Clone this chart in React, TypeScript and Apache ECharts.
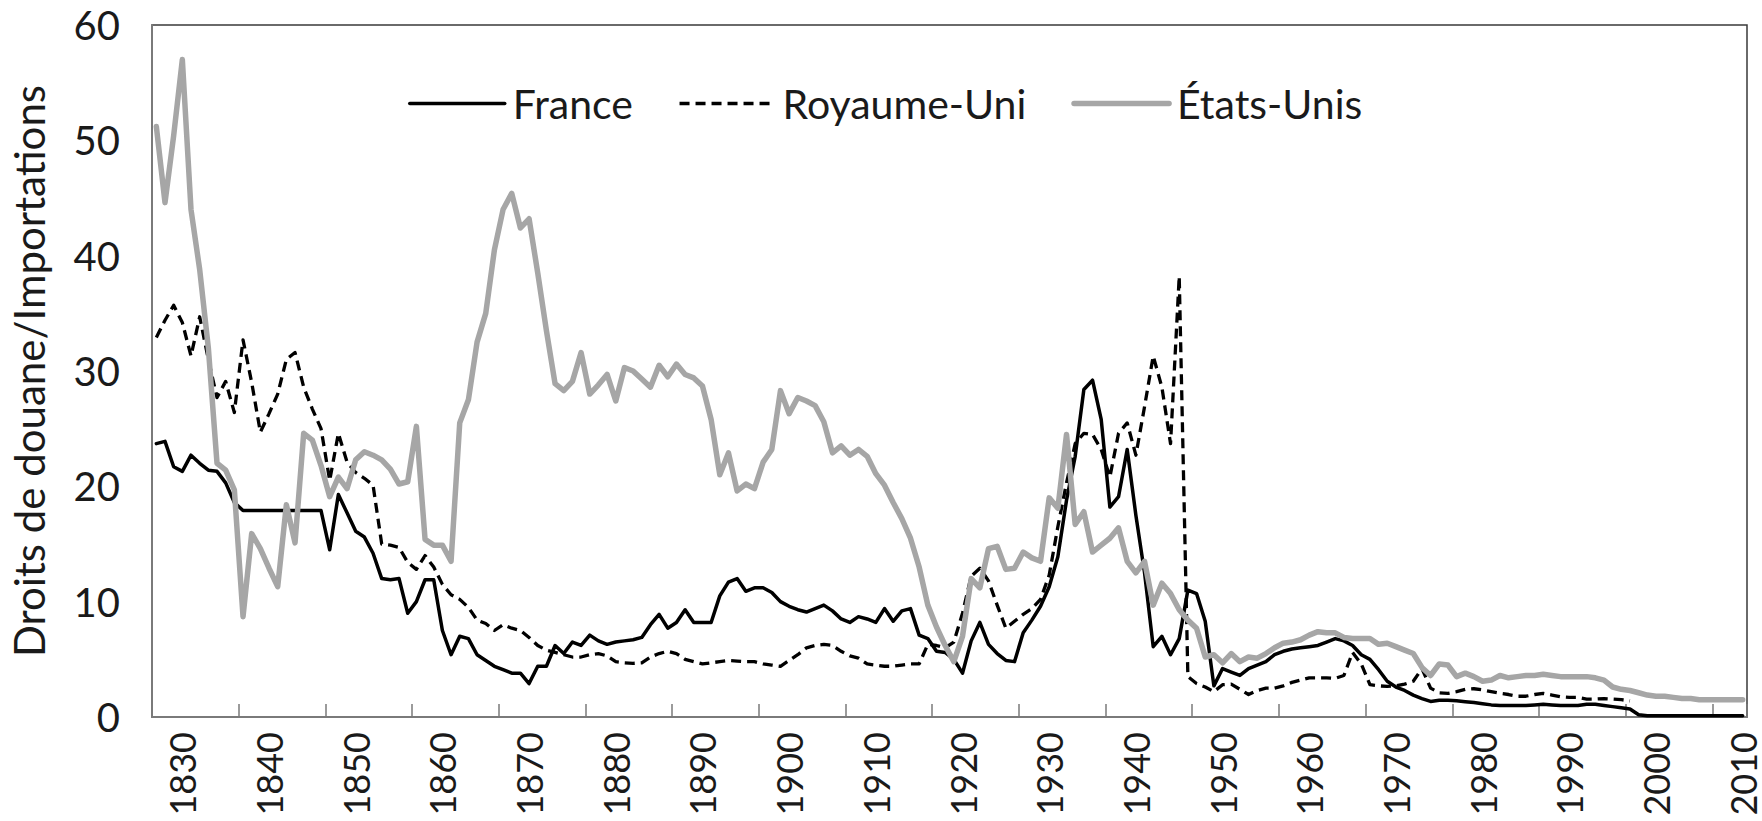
import React, { useEffect, useRef } from "react";
import * as echarts from "echarts";

// Years 1827..2010 (one category per year)
const firstYear = 1827;
const lastYear = 2010;
const years: string[] = [];
for (let y = firstYear; y <= lastYear; y++) years.push(String(y));

const seriesNames = ["France", "Royaume-Uni", "États-Unis"];

// Droits de douane / Importations (%)
const france: (number | null)[] = [
  23.7, 23.9, 21.7, 21.3, 22.7, 22.0, 21.4, 21.3, 20.3, 18.6,
  17.9, 17.9, 17.9, 17.9, 17.9, 17.9, 17.9, 17.9, 17.9, 17.9,
  14.5, 19.3, 17.7, 16.1, 15.6, 14.2, 12.0, 11.9, 12.0, 9.0,
  10.0, 11.9, 11.9, 7.5, 5.4, 7.0, 6.8, 5.4, 4.9, 4.4,
  4.1, 3.8, 3.8, 2.9, 4.4, 4.4, 6.2, 5.5, 6.5, 6.2,
  7.1, 6.6, 6.3, 6.5, 6.6, 6.7, 6.9, 8.0, 8.9, 7.7,
  8.2, 9.3, 8.2, 8.2, 8.2, 10.5, 11.7, 12.0, 10.9, 11.2,
  11.2, 10.8, 10.0, 9.6, 9.3, 9.1, 9.4, 9.7, 9.2, 8.5,
  8.2, 8.7, 8.5, 8.2, 9.4, 8.3, 9.2, 9.4, 7.1, 6.8,
  5.7, 5.6, 5.0, 3.8, 6.6, 8.2, 6.3, 5.5, 4.9, 4.8,
  7.3, 8.4, 9.6, 11.3, 13.9, 18.8, 22.6, 28.4, 29.2, 25.8,
  18.2, 19.1, 23.2, 17.5, 12.5, 6.1, 7.0, 5.4, 6.8, 11.0,
  10.7, 8.3, 2.7, 4.2, 3.9, 3.6, 4.2, 4.5, 4.8, 5.4,
  5.7, 5.9, 6.0, 6.1, 6.2, 6.5, 6.8, 6.6, 6.2, 5.4,
  5.0, 4.1, 3.1, 2.6, 2.3, 1.9, 1.6, 1.35, 1.45, 1.45,
  1.4, 1.33, 1.25, 1.15, 1.05, 1.0, 1.0, 1.0, 1.0, 1.05,
  1.1, 1.05, 1.0, 1.0, 1.0, 1.1, 1.1, 1.0, 0.9, 0.8,
  0.7, 0.2, 0.1, 0.1, 0.1, 0.1, 0.1, 0.1, 0.1, 0.1,
  0.1, 0.1, 0.1, 0.1,
];

const royaumeUni: (number | null)[] = [
  32.9, 34.4, 35.7, 34.2, 31.3, 34.7, 31.0, 27.7, 29.1, 26.4,
  32.7, 29.0, 24.7, 26.3, 28.0, 31.0, 31.6, 28.6, 26.7, 25.0,
  20.5, 24.6, 22.1, 21.2, 20.7, 20.1, 15.0, 14.9, 14.7, 13.4,
  12.8, 14.0, 13.0, 11.5, 10.6, 10.2, 9.5, 8.4, 8.1, 7.5,
  8.0, 7.7, 7.5, 6.9, 6.2, 5.8, 5.6, 5.4, 5.2, 5.2,
  5.4, 5.5, 5.3, 4.8, 4.7, 4.65, 4.7, 5.2, 5.5, 5.7,
  5.5, 5.0, 4.8, 4.6, 4.7, 4.8, 4.9, 4.85, 4.8, 4.8,
  4.6, 4.5, 4.4, 4.9, 5.4, 6.0, 6.2, 6.3, 6.2, 5.7,
  5.3, 5.1, 4.6, 4.5, 4.4, 4.4, 4.5, 4.6, 4.6, 6.3,
  6.2, 6.0, 6.5, 9.0, 12.2, 12.9, 11.8, 9.7, 7.7, 8.3,
  8.9, 9.4, 10.2, 12.3, 16.5, 20.3, 23.7, 24.6, 24.5, 23.2,
  20.8, 24.6, 25.5, 22.7, 26.9, 31.3, 28.6, 23.7, 38.2, 3.5,
  2.9, 2.6, 2.2, 2.8, 2.85, 2.4, 1.95, 2.3, 2.5, 2.5,
  2.7, 3.0, 3.2, 3.4, 3.4, 3.4, 3.35, 3.6, 5.6, 4.6,
  2.8, 2.7, 2.65, 2.7, 2.85, 3.1, 4.2, 2.5, 2.1, 2.05,
  2.2, 2.4, 2.45, 2.35, 2.2, 2.05, 1.95, 1.8, 1.8, 1.95,
  2.05, 1.9, 1.75, 1.7, 1.7, 1.55, 1.55, 1.6, 1.55, 1.5,
  1.4, null, null, null, null, null, null, null, null, null,
  null, null, null, null,
];

const etatsUnis: (number | null)[] = [
  51.2, 44.6, 50.4, 57.0, 44.0, 38.8, 32.0, 22.0, 21.4, 19.7,
  8.7, 15.9, 14.6, 12.9, 11.3, 18.4, 15.1, 24.6, 24.0, 21.8,
  19.1, 20.8, 19.8, 22.3, 23.0, 22.7, 22.3, 21.5, 20.2, 20.4,
  25.2, 15.4, 14.9, 14.9, 13.5, 25.5, 27.5, 32.5, 35.0, 40.5,
  44.0, 45.4, 42.4, 43.2, 38.5, 33.5, 28.9, 28.3, 29.1, 31.6,
  28.0, 28.8, 29.7, 27.4, 30.3, 30.0, 29.3, 28.6, 30.5, 29.5,
  30.6, 29.7, 29.4, 28.7, 25.8, 21.0, 22.9, 19.6, 20.2, 19.8,
  22.1, 23.2, 28.3, 26.3, 27.7, 27.4, 27.0, 25.6, 22.9, 23.5,
  22.7, 23.2, 22.6, 21.1, 20.1, 18.6, 17.2, 15.5, 13.0, 9.7,
  7.8, 6.2, 4.8, 7.0, 12.0, 11.2, 14.6, 14.8, 12.8, 12.9,
  14.3, 13.8, 13.5, 19.0, 18.1, 24.5, 16.7, 17.8, 14.3, 14.9,
  15.5, 16.4, 13.5, 12.5, 13.5, 9.7, 11.6, 10.7, 9.3, 8.4,
  7.7, 5.2, 5.4, 4.7, 5.5, 4.8, 5.2, 5.1, 5.5, 6.0,
  6.4, 6.5, 6.7, 7.1, 7.4, 7.3, 7.3, 6.9, 6.8, 6.8,
  6.8, 6.3, 6.4, 6.1, 5.8, 5.5, 4.3, 3.6, 4.6, 4.5,
  3.5, 3.8, 3.5, 3.1, 3.2, 3.6, 3.4, 3.5, 3.6, 3.6,
  3.7, 3.6, 3.5, 3.5, 3.5, 3.5, 3.4, 3.2, 2.6, 2.4,
  2.3, 2.1, 1.9, 1.8, 1.8, 1.7, 1.6, 1.6, 1.5, 1.5,
  1.5, 1.5, 1.5, 1.5,
];

const yMin = 0;
const yMax = 60;
const yStep = 10;

const FONT = "Lato, 'Open Sans', sans-serif";

export default function App() {
  const ref = useRef<HTMLDivElement>(null);

  useEffect(() => {
    document.body.style.margin = "0";
    const chart = echarts.init(ref.current as HTMLDivElement, null, { renderer: "svg" });
    chart.setOption({
      animation: false,
      backgroundColor: "#ffffff",
      textStyle: { fontFamily: FONT, color: "#1a1a1a" },
      grid: {
        left: 152,
        top: 25,
        right: 15,
        bottom: 104,
        show: true,
        borderColor: "#3a3a3a",
        borderWidth: 1.5,
        backgroundColor: "transparent",
      },
      legend: {
        data: seriesNames,
        left: 403,
        top: 78,
        itemWidth: 95,
        itemHeight: 20,
        itemGap: 45,
        itemStyle: { opacity: 0 },
        lineStyle: { width: "inherit" },
        textStyle: {
          fontFamily: FONT,
          fontSize: 41,
          color: "#1a1a1a",
          padding: [0, 0, 0, 3],
        },
      },
      xAxis: {
        type: "category",
        data: years,
        boundaryGap: true,
        axisLine: { show: true, lineStyle: { color: "#7a7a7a", width: 2 } },
        axisTick: {
          show: true,
          inside: true,
          length: 13,
          interval: (idx: number, val: string) => (Number(val) - firstYear) % 10 === 0 && idx > 0,
          lineStyle: { color: "#7a7a7a", width: 1.5 },
        },
        axisLabel: {
          rotate: 90,
          interval: (_idx: number, val: string) => Number(val) % 10 === 0,
          fontFamily: FONT,
          fontSize: 36,
          lineHeight: 34,
          color: "#1a1a1a",
          margin: 15,
        },
        splitLine: { show: false },
      },
      yAxis: {
        type: "value",
        min: yMin,
        max: yMax,
        interval: yStep,
        name: "Droits de douane/Importations",
        nameLocation: "middle",
        nameRotate: 90,
        nameGap: 102,
        nameTextStyle: { fontFamily: FONT, fontSize: 42, color: "#1a1a1a" },
        axisLine: { show: true, lineStyle: { color: "#7a7a7a", width: 2 } },
        axisTick: { show: false },
        axisLabel: { fontFamily: FONT, fontSize: 40, color: "#1a1a1a", margin: 32 },
        splitLine: { show: false },
      },
      series: [
        {
          name: seriesNames[0],
          type: "line",
          data: france,
          symbol: "none",
          connectNulls: false,
          lineStyle: { color: "#000000", width: 3.5, join: "round", cap: "round" },
          itemStyle: { color: "#000000" },
        },
        {
          name: seriesNames[1],
          type: "line",
          data: royaumeUni,
          symbol: "none",
          connectNulls: false,
          lineStyle: { color: "#000000", width: 3.3, type: [10, 6], join: "round" },
          itemStyle: { color: "#000000" },
        },
        {
          name: seriesNames[2],
          type: "line",
          data: etatsUnis,
          symbol: "none",
          connectNulls: false,
          lineStyle: { color: "#a6a6a6", width: 5.5, join: "round", cap: "round" },
          itemStyle: { color: "#a6a6a6" },
        },
      ],
    });
    return () => chart.dispose();
  }, []);

  return <div ref={ref} style={{ width: 1762, height: 821 }} />;
}
